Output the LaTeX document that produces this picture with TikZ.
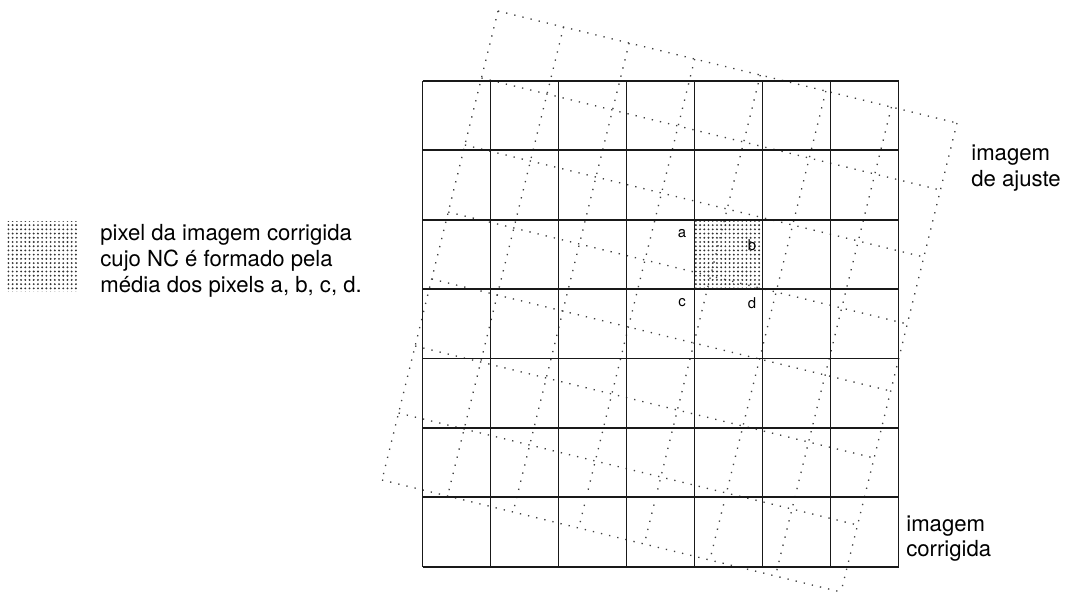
\documentclass[tikz,border=0pt]{standalone}
\usepackage{fontspec}
\setmainfont{TeX Gyre Heros}
\usetikzlibrary{calc, patterns.meta}
\tikzdeclarepattern{
  name=stipple, type=uncolored,
  bottom left={(-1.2pt,-1.2pt)}, top right={(1.2pt,1.2pt)},
  tile size={(2.4pt,2.4pt)},
  code={\pgfpathcircle{\pgfpointorigin}{0.6pt}\pgfusepath{fill}}
}
\tikzset{
  every picture/.style={font=\fontsize{12.6}{14.6}\selectfont},
  cellline/.style={draw=black!90, line width=0.95pt},
  fitline/.style={draw=black!75, line width=0.75pt, loosely dotted},
  shade/.style={pattern=stipple, pattern color=black!80},
  corner/.style={font=\fontsize{8.5}{10}\selectfont, inner sep=0pt},
  caption/.style={align=left, inner sep=0pt, anchor=base west},
}

\begin{document}
\begin{tikzpicture}[x=1.36cm, y=1.388cm]
  \useasboundingbox (-6.215,-0.365) rectangle (9.565,8.166);
  \coordinate (tl) at (1.109,8.007);
  \coordinate (tr) at (7.859,6.393);
  \coordinate (bl) at (-0.597,1.249);
  \coordinate (br) at (6.153,-0.365);
  \fill[shade] (4,4) rectangle (5,5);
  \foreach \i in {0,...,7} {
    \draw[fitline] ($(tl)!\i/7!(tr)$) -- ($(bl)!\i/7!(br)$);
    \draw[fitline] ($(tl)!\i/7!(bl)$) -- ($(tr)!\i/7!(br)$);
  }
  \foreach \i in {0,...,7} {
    \draw[cellline] (\i,0) -- (\i,7);
    \draw[cellline] (0,\i) -- (7,\i);
  }
  \foreach \n/\x/\y in {a/3.815/4.806, b/4.844/4.633, c/3.815/3.812, d/4.844/3.797}
    \node[corner] (\n) at (\x,\y) {\n};
  \fill[shade] (-6.104,3.965) rectangle (-5.068,4.967);
  \node[caption] (key) at (-4.744,3.958) {pixel da imagem corrigida\\cujo NC é formado pela\\média dos pixels a, b, c, d.};
  \node[caption] (fit) at (8.065,5.484) {imagem\\de ajuste};
  \node[caption] (out) at (7.109,0.14) {imagem\\corrigida};
\end{tikzpicture}
\end{document}
